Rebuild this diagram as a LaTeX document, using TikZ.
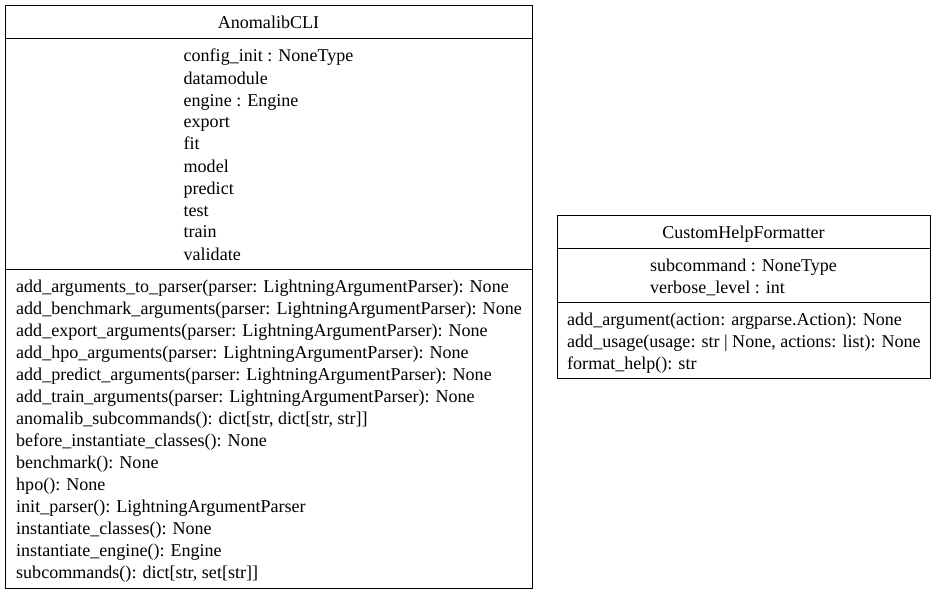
\documentclass[tikz,border=0pt]{standalone}
\usepackage{fontspec}
\setmainfont{Liberation Serif}
\newcommand{\umlfont}{\fontsize{18.05}{22}\selectfont}

\tikzset{
  classbox/.style={draw, line width=1pt},
  member/.style={inner sep=0pt, font=\umlfont}
}

\begin{document}
\begin{tikzpicture}[x=1pt, y=-1pt]
	\useasboundingbox (0,0) rectangle (936,594);
	\draw[classbox] (5,6) rectangle (532,588);
	\draw[classbox] (5,39) -- (532,39);
	\draw[classbox] (5,269) -- (532,269);
	\node[member, anchor=base] (clititle) at (268.5,29) {AnomalibCLI};
	\node[member, anchor=base] (cliattrs) at (268.5,62) {\begin{tabular}[t]{@{}l@{}}
		config\_init : NoneType\\
		datamodule\\
		engine : Engine\\
		export\\
		fit\\
		model\\
		predict\\
		test\\
		train\\
		validate
	\end{tabular}};
	\node[member, anchor=base west] (cliops) at (16,292) {\begin{tabular}[t]{@{}l@{}}
		add\_arguments\_to\_parser(parser: LightningArgumentParser): None\\
		add\_benchmark\_arguments(parser: LightningArgumentParser): None\\
		add\_export\_arguments(parser: LightningArgumentParser): None\\
		add\_hpo\_arguments(parser: LightningArgumentParser): None\\
		add\_predict\_arguments(parser: LightningArgumentParser): None\\
		add\_train\_arguments(parser: LightningArgumentParser): None\\
		anomalib\_subcommands(): dict[str, dict[str, str]]\\
		before\_instantiate\_classes(): None\\
		benchmark(): None\\
		hpo(): None\\
		init\_parser(): LightningArgumentParser\\
		instantiate\_classes(): None\\
		instantiate\_engine(): Engine\\
		subcommands(): dict[str, set[str]]
	\end{tabular}};

	\draw[classbox] (557,215) rectangle (930,378);
	\draw[classbox] (557,248) -- (930,248);
	\draw[classbox] (557,302) -- (930,302);
	\node[member, anchor=base] (helptitle) at (743.5,238) {CustomHelpFormatter};
	\node[member, anchor=base] (helpattrs) at (743.5,271) {\begin{tabular}[t]{@{}l@{}}
		subcommand : NoneType\\
		verbose\_level : int
	\end{tabular}};
	\node[member, anchor=base west] (helpops) at (567,325) {\begin{tabular}[t]{@{}l@{}}
		add\_argument(action: argparse.Action): None\\
		add\_usage(usage: str | None, actions: list): None\\
		format\_help(): str
	\end{tabular}};
\end{tikzpicture}
\end{document}
